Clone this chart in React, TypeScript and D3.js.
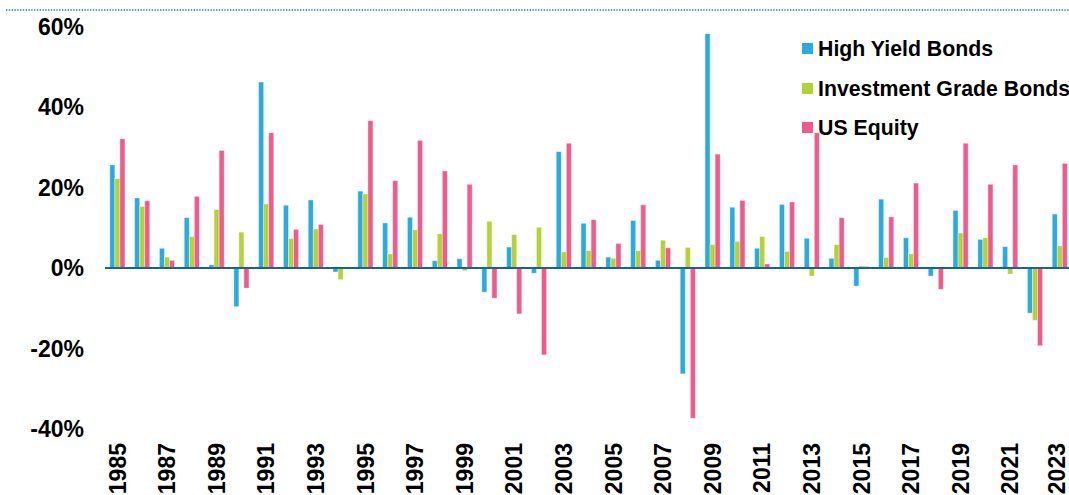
import React from "react";
import * as d3 from "d3";

// Annual total returns (%) by asset class, 1985–2023
const years: number[] = d3.range(1985, 2024);

const highYield: number[] = [
  25.6, 17.4, 4.9, 12.5, 0.8, -9.6, 46.2, 15.6, 16.9, -1.0,
  19.1, 11.2, 12.6, 1.8, 2.3, -6.0, 5.2, -1.3, 28.9, 11.1,
  2.7, 11.8, 1.9, -26.3, 58.2, 15.1, 4.9, 15.8, 7.4, 2.4,
  -4.5, 17.1, 7.5, -2.0, 14.3, 7.1, 5.3, -11.2, 13.4,
];

const investmentGrade: number[] = [
  22.2, 15.3, 2.7, 7.8, 14.5, 8.9, 15.9, 7.3, 9.7, -2.9,
  18.4, 3.5, 9.5, 8.5, -0.7, 11.6, 8.3, 10.1, 4.0, 4.3,
  2.4, 4.3, 6.9, 5.1, 5.8, 6.6, 7.8, 4.1, -2.0, 5.8,
  0.5, 2.6, 3.5, 0.0, 8.7, 7.5, -1.5, -13.0, 5.5,
];

const usEquity: number[] = [
  32.1, 16.7, 1.9, 17.8, 29.2, -5.0, 33.6, 9.6, 10.8, 0.0,
  36.6, 21.7, 31.7, 24.1, 20.8, -7.5, -11.4, -21.6, 31.0, 12.0,
  6.1, 15.7, 5.0, -37.3, 28.3, 16.8, 1.0, 16.4, 33.6, 12.5,
  0.4, 12.7, 21.1, -5.3, 31.0, 20.8, 25.6, -19.3, 26.0,
];

const seriesNames: string[] = ["High Yield Bonds", "Investment Grade Bonds", "US Equity"];
const seriesColors: string[] = ["#29abe2", "#b3d235", "#f15b8c"];
const seriesValues: number[][] = [highYield, investmentGrade, usEquity];

const yTicks: number[] = [60, 40, 20, 0, -20, -40];
const xTickYears: number[] = years.filter((y) => y % 2 === 1);

const WIDTH = 1069;
const HEIGHT = 495;
const FONT = "'Liberation Sans', Arial, Helvetica, sans-serif";

export default function App() {
  const x = d3
    .scaleBand<number>()
    .domain(years)
    .range([105, 1072.2])
    .paddingInner(0.39)
    .paddingOuter(0.195);

  const xSub = d3
    .scaleBand<number>()
    .domain(d3.range(seriesNames.length))
    .range([0, x.bandwidth()]);

  const y = d3.scaleLinear().domain([-40, 60]).range([429, 26.5]);
  const y0 = y(0);

  return (
    <svg
      width={WIDTH}
      height={HEIGHT}
      style={{ position: "absolute", left: 0, top: 0, background: "#fff" }}
      fontFamily={FONT}
    >
      {/* dotted rule across the top */}
      <line
        x1={6}
        x2={WIDTH}
        y1={10}
        y2={10}
        stroke="#2a78b0"
        strokeWidth={1.4}
        strokeDasharray="1.4,1.4"
      />

      {/* y-axis labels */}
      {yTicks.map((t) => (
        <text
          key={t}
          x={84}
          y={y(t)}
          dy="0.36em"
          textAnchor="end"
          fontSize={23}
          fontWeight="bold"
          fill="#000"
        >
          {`${t}%`}
        </text>
      ))}

      {/* bars */}
      {years.map((yr, i) => (
        <g key={yr} transform={`translate(${x(yr)},0)`}>
          {seriesValues.map((vals, s) => {
            const v = vals[i];
            const top = y(Math.max(0, v));
            const h = Math.abs(y(v) - y0);
            return (
              <rect
                key={s}
                x={xSub(s)}
                y={top}
                width={xSub.bandwidth()}
                height={h}
                fill={seriesColors[s]}
                stroke="rgba(255,255,255,0.45)"
                strokeWidth={0.8}
              />
            );
          })}
        </g>
      ))}

      {/* zero line */}
      <line x1={105} x2={WIDTH} y1={y0} y2={y0} stroke="#1a6294" strokeWidth={2} />

      {/* x-axis labels (kept inside the right edge) */}
      {xTickYears.map((yr) => {
        const cx = Math.min((x(yr) as number) + x.bandwidth() / 2, WIDTH - 12);
        return (
          <text
            key={yr}
            transform={`translate(${cx},443) rotate(-90)`}
            dy="0.36em"
            textAnchor="end"
            fontSize={23}
            fontWeight="bold"
            fill="#000"
          >
            {yr}
          </text>
        );
      })}

      {/* legend */}
      {seriesNames.map((name, s) => {
        const cy = [48.5, 88.5, 127.5][s];
        return (
          <g key={name}>
            <rect x={802} y={cy - 5.5} width={11} height={11} fill={seriesColors[s]} />
            <text
              x={818}
              y={cy}
              dy="0.36em"
              fontSize={21.3}
              fontWeight="bold"
              fill="#000"
            >
              {name}
            </text>
          </g>
        );
      })}
    </svg>
  );
}
